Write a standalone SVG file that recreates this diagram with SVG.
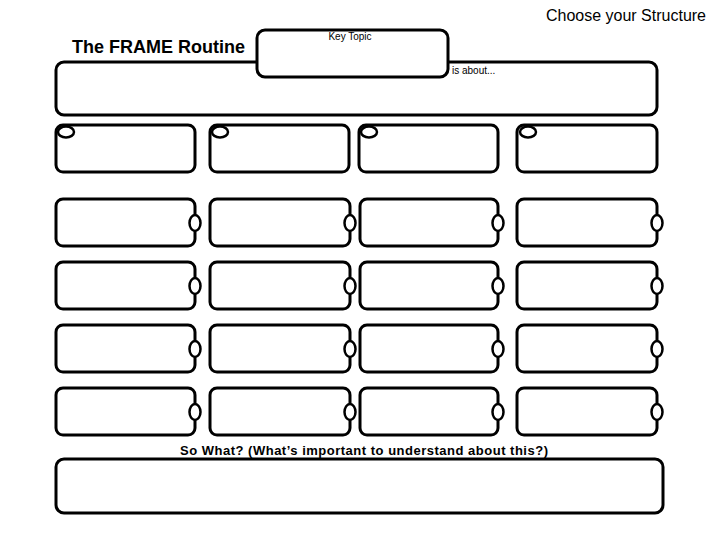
<svg xmlns="http://www.w3.org/2000/svg" width="720" height="540" viewBox="0 0 720 540">
<style>
.b{fill:#fff;stroke:#000;stroke-width:3}
.o{fill:#fff;stroke:#000;stroke-width:2.5}
.t{font-family:"Liberation Sans",Arial,sans-serif;fill:#000}
</style>
<rect width="720" height="540" fill="#fff"/>
<text class="t" x="706" y="21" font-size="16" text-anchor="end">Choose your Structure</text>
<text class="t" x="72" y="53" font-size="18" font-weight="bold">The FRAME Routine</text>
<g id="main">
<rect class="b" x="56" y="62" width="601" height="53" rx="8"/>
<text class="t" x="452" y="74" font-size="10">is about...</text>
</g>
<g id="key-topic">
<rect class="b" x="257" y="30" width="191" height="47" rx="8"/>
<text class="t" x="350" y="40" font-size="10" text-anchor="middle">Key Topic</text>
</g>
<g id="row1">
<g id="r1c1"><rect class="b" x="56" y="125" width="139" height="47" rx="7"/><ellipse class="o" cx="66" cy="132" rx="8" ry="5.5"/></g>
<g id="r1c2"><rect class="b" x="210" y="125" width="139" height="47" rx="7"/><ellipse class="o" cx="220" cy="132" rx="8" ry="5.5"/></g>
<g id="r1c3"><rect class="b" x="359" y="125" width="139" height="47" rx="7"/><ellipse class="o" cx="369" cy="132" rx="8" ry="5.5"/></g>
<g id="r1c4"><rect class="b" x="517" y="125" width="140" height="47" rx="7"/><ellipse class="o" cx="528" cy="132" rx="8" ry="5.5"/></g>
</g>
<g id="row2">
<g id="r2c1"><rect class="b" x="56" y="199" width="139" height="47" rx="7"/><ellipse class="o" cx="195" cy="223" rx="5.5" ry="8"/></g>
<g id="r2c2"><rect class="b" x="210" y="199" width="140" height="47" rx="7"/><ellipse class="o" cx="350" cy="223" rx="5.5" ry="8"/></g>
<g id="r2c3"><rect class="b" x="360" y="199" width="138" height="47" rx="7"/><ellipse class="o" cx="498" cy="223" rx="5.5" ry="8"/></g>
<g id="r2c4"><rect class="b" x="517" y="199" width="140" height="47" rx="7"/><ellipse class="o" cx="657" cy="223" rx="5.5" ry="8"/></g>
</g>
<g id="row3">
<g id="r3c1"><rect class="b" x="56" y="262" width="139" height="47" rx="7"/><ellipse class="o" cx="195" cy="286" rx="5.5" ry="8"/></g>
<g id="r3c2"><rect class="b" x="210" y="262" width="140" height="47" rx="7"/><ellipse class="o" cx="350" cy="286" rx="5.5" ry="8"/></g>
<g id="r3c3"><rect class="b" x="360" y="262" width="138" height="47" rx="7"/><ellipse class="o" cx="498" cy="286" rx="5.5" ry="8"/></g>
<g id="r3c4"><rect class="b" x="517" y="262" width="140" height="47" rx="7"/><ellipse class="o" cx="657" cy="286" rx="5.5" ry="8"/></g>
</g>
<g id="row4">
<g id="r4c1"><rect class="b" x="56" y="325" width="139" height="47" rx="7"/><ellipse class="o" cx="195" cy="349" rx="5.5" ry="8"/></g>
<g id="r4c2"><rect class="b" x="210" y="325" width="140" height="47" rx="7"/><ellipse class="o" cx="350" cy="349" rx="5.5" ry="8"/></g>
<g id="r4c3"><rect class="b" x="360" y="325" width="138" height="47" rx="7"/><ellipse class="o" cx="498" cy="349" rx="5.5" ry="8"/></g>
<g id="r4c4"><rect class="b" x="517" y="325" width="140" height="47" rx="7"/><ellipse class="o" cx="657" cy="349" rx="5.5" ry="8"/></g>
</g>
<g id="row5">
<g id="r5c1"><rect class="b" x="56" y="388" width="139" height="47" rx="7"/><ellipse class="o" cx="195" cy="412" rx="5.5" ry="8"/></g>
<g id="r5c2"><rect class="b" x="210" y="388" width="140" height="47" rx="7"/><ellipse class="o" cx="350" cy="412" rx="5.5" ry="8"/></g>
<g id="r5c3"><rect class="b" x="360" y="388" width="138" height="47" rx="7"/><ellipse class="o" cx="498" cy="412" rx="5.5" ry="8"/></g>
<g id="r5c4"><rect class="b" x="517" y="388" width="140" height="47" rx="7"/><ellipse class="o" cx="657" cy="412" rx="5.5" ry="8"/></g>
</g>
<g id="so-what">
<text class="t" x="180" y="455" font-size="13" font-weight="bold" textLength="368" lengthAdjust="spacing">So What? (What’s important to understand about this?)</text>
<rect class="b" x="56" y="459" width="607" height="54" rx="8"/>
</g>
<g id="connectors"/>
</svg>
